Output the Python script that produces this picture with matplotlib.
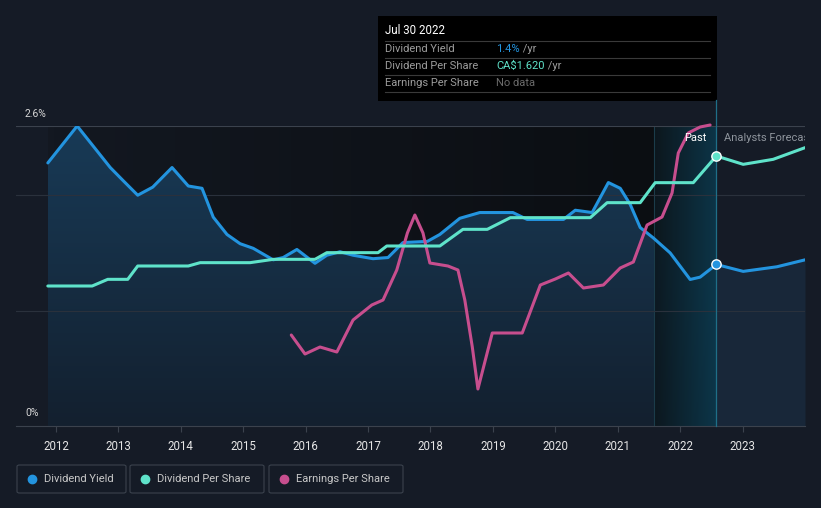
import numpy as np
import matplotlib
matplotlib.use("Agg")
from matplotlib import pyplot as plt
from matplotlib.colors import LinearSegmentedColormap
from matplotlib.patches import Rectangle, FancyBboxPatch

plt.rcParams['font.family'] = ['Roboto', 'DejaVu Sans']

# dividend yield (%)
dy_years = [2011.87, 2012.34, 2012.87, 2013.07, 2013.31, 2013.55, 2013.86, 2014.12, 2014.34,
            2014.52, 2014.74, 2014.95, 2015.16, 2015.48, 2015.64, 2015.86, 2016.15, 2016.34,
            2016.55, 2016.76, 2017.08, 2017.32, 2017.56, 2017.95, 2018.15, 2018.47, 2018.79,
            2019.32, 2019.55, 2020.13, 2020.32, 2020.59, 2020.85, 2021.04, 2021.20, 2021.36,
            2021.57, 2021.84, 2022.16, 2022.32, 2022.58, 2023.01, 2023.55, 2024.00]
dy_vals = [2.28, 2.60, 2.24, 2.13, 2.00, 2.07, 2.24, 2.08, 2.06,
           1.81, 1.66, 1.58, 1.54, 1.44, 1.46, 1.53, 1.41, 1.48,
           1.51, 1.48, 1.45, 1.46, 1.59, 1.60, 1.66, 1.80, 1.85,
           1.85, 1.79, 1.79, 1.87, 1.85, 2.11, 2.06, 1.92, 1.72,
           1.63, 1.50, 1.27, 1.29, 1.40, 1.34, 1.38, 1.44]

# dividend per share (CA$)
dps_years = [2011.87, 2012.58, 2012.83, 2013.15, 2013.31, 2014.12, 2014.31, 2015.11, 2015.48,
             2016.15, 2016.34, 2017.16, 2017.30, 2018.15, 2018.52, 2018.91, 2019.28, 2020.56,
             2020.83, 2021.36, 2021.60, 2022.21, 2022.58, 2023.01, 2023.49, 2024.00]
dps_vals = [0.84, 0.84, 0.88, 0.88, 0.96, 0.96, 0.98, 0.98, 1.00,
            1.00, 1.04, 1.04, 1.08, 1.08, 1.18, 1.18, 1.25, 1.25,
            1.34, 1.34, 1.46, 1.46, 1.62, 1.57, 1.60, 1.67]

# earnings per share (CA$)
eps_years = [2015.77, 2015.99, 2016.23, 2016.50, 2016.76, 2017.06, 2017.24, 2017.46, 2017.63,
             2017.75, 2017.88, 2017.99, 2018.28, 2018.44, 2018.55, 2018.67, 2018.76, 2018.99,
             2019.47, 2019.76, 2020.00, 2020.21, 2020.45, 2020.77, 2021.04, 2021.25, 2021.47,
             2021.71, 2021.87, 2021.97, 2022.13, 2022.32, 2022.48]
eps_vals = [1.82, 1.44, 1.58, 1.48, 2.12, 2.42, 2.52, 3.12, 3.86,
            4.22, 3.86, 3.26, 3.20, 3.12, 2.52, 1.58, 0.74, 1.86,
            1.86, 2.82, 2.94, 3.06, 2.76, 2.82, 3.16, 3.28, 4.02,
            4.18, 4.66, 5.46, 5.86, 5.98, 6.02]

years = [2012, 2013, 2014, 2015, 2016, 2017, 2018, 2019, 2020, 2021, 2022, 2023]
now = 2022.58
band_start = 2021.58

BG = '#151b26'
BLUE = '#2394df'
TEAL = '#5fe3ca'
PINK = '#c74e8e'

W, H = 821, 508
fig = plt.figure(figsize=(W / 100, H / 100), dpi=100, facecolor=BG)

def px(x, y):
    return x / W, 1 - y / H

ax = fig.add_axes([16 / W, 1 - 426 / H, (805 - 16) / W, 300 / H])
ax.set_facecolor(BG)
ax.set_xlim(2011.36, 2024.0)
ax.set_ylim(0, 2.6)
ax2 = ax.twinx()
ax2.set_ylim(0, 1.8)
ax3 = ax.twinx()
ax3.set_ylim(0, 6.0)
for a in (ax2, ax3):
    a.axis('off')

# past background, darker towards the right
cm_past = LinearSegmentedColormap.from_list('p', ['#131821', '#0b0e12'])
ax.imshow(np.linspace(0, 1, 100).reshape(1, -1), cmap=cm_past, aspect='auto',
          extent=[dy_years[0], band_start, 0, 2.6], zorder=0)

# fill under the yield curve (gradient)
yy = np.array(dy_vals)
xx = np.array(dy_years)
past = xx <= now
poly = ax.fill_between(xx[past], yy[past], 0, color='none', zorder=1)
cm_fill = LinearSegmentedColormap.from_list('f', ['#13202f', '#183a56'])
img = ax.imshow(np.linspace(0, 1, 100).reshape(-1, 1), cmap=cm_fill, aspect='auto',
                origin='lower', extent=[dy_years[0], now, 0, 2.6], zorder=1)
img.set_clip_path(poly.get_paths()[0], transform=ax.transData)
fut = xx >= now
ax.fill_between(xx[fut], yy[fut], 0, color='#1a2b3e', alpha=0.8, zorder=1, lw=0)

# highlighted band before "now"
cm_band = LinearSegmentedColormap.from_list('b', ['#0c161c', '#0b3a4e'])
ax.imshow(np.linspace(0, 1, 100).reshape(1, -1), cmap=cm_band, aspect='auto',
          extent=[band_start, now, 0, 2.6], zorder=1.5, alpha=0.85)
ax.axvline(band_start, color='#1b3c4a', lw=0.8, zorder=1.6)

# grid
for v in (1.0, 2.0):
    ax.axhline(v, color='#2a313c', lw=0.8, zorder=1.7)
ax.axhline(2.6, color='#3b424d', lw=0.8, zorder=1.7)

kw = dict(lw=2.2, solid_capstyle='round', solid_joinstyle='round')
ax.plot(dy_years, dy_vals, color=BLUE, zorder=4, **kw)
ax2.plot(dps_years, dps_vals, color=TEAL, zorder=4, **kw)
ax3.plot(eps_years, eps_vals, color=PINK, zorder=3, clip_on=False, **kw)
ax2.set_zorder(2)
ax3.set_zorder(1.5)
ax.set_zorder(1)
ax2.patch.set_visible(False)
ax3.patch.set_visible(False)

ax2.scatter([now], [1.62], s=45, color=TEAL, edgecolor='white', lw=1, zorder=6, clip_on=False)
ax2.scatter([now], [1.40 * 1.8 / 2.6], s=45, color=BLUE, edgecolor='white', lw=1, zorder=6, clip_on=False)

ax2.text(now - 0.15, 2.5 * 1.8 / 2.6, 'Past', color='white', fontsize=8, ha='right', va='center')
ax2.text(now + 0.12, 2.5 * 1.8 / 2.6, 'Analysts Forecast', color='#8e949c', fontsize=8,
         ha='left', va='center', clip_on=True)

# axes decoration
for s in ('top', 'right', 'left'):
    ax.spines[s].set_visible(False)
ax.spines['bottom'].set_color('#3b424d')
ax.set_yticks([])
ax.set_xticks(years)
ax.set_xticklabels([str(y) for y in years])
ax.tick_params(axis='x', colors='#3b424d', length=4, width=0.8, labelcolor='#e6e6e6',
               labelsize=8.3, pad=6)

fig.text(*px(25, 114), '2.6%', color='#d6d6d6', fontsize=7.5, va='center')
fig.text(*px(25, 413), '0%', color='#d6d6d6', fontsize=7.5, va='center')

# vertical "now" line
fig.add_artist(plt.Line2D([716 / W, 716 / W], [1 - 100 / H, 1 - 426 / H], color='#1f6f88', lw=0.9))

# tooltip
fig.add_artist(Rectangle(px(378, 101), (717 - 378) / W, 85 / H, transform=fig.transFigure,
                         facecolor='black', edgecolor='none'))
fig.text(*px(385, 31), 'Jul 30 2022', color='white', fontsize=8.3, va='center')
for y in (41, 58, 75, 92):
    fig.add_artist(plt.Line2D([385 / W, 710 / W], [1 - y / H] * 2, color='#3a3a3a', lw=0.8))
rows = [('Dividend Yield', '1.4%', BLUE, ' /yr'),
        ('Dividend Per Share', 'CA$1.620', TEAL, ' /yr'),
        ('Earnings Per Share', 'No data', '#6b6b6b', '')]
for i, (lab, val, col, unit) in enumerate(rows):
    y = 49 + 17 * i
    fig.text(*px(385, y), lab, color='#9c9c9c', fontsize=8, va='center')
    t = fig.text(*px(496, y), val, color=col, fontsize=8, va='center')
    if unit:
        fig.canvas.draw()
        bb = t.get_window_extent()
        fig.text(bb.x1 / W, 1 - y / H, unit, color='#9c9c9c', fontsize=8, va='center')

# legend boxes
legend = [('Dividend Yield', BLUE, 17, 126), ('Dividend Per Share', TEAL, 130, 264),
          ('Earnings Per Share', PINK, 269, 403)]
for lab, col, x0, x1 in legend:
    fig.add_artist(FancyBboxPatch(px(x0, 493), (x1 - x0) / W, 28 / H, transform=fig.transFigure,
                                  boxstyle='round,pad=0,rounding_size=0.003',
                                  facecolor=BG, edgecolor='#3b424d', lw=0.8))
    fig.add_artist(plt.Line2D([(x0 + 15) / W], [1 - 479 / H], marker='o', markersize=6,
                              color=col, transform=fig.transFigure))
    fig.text(*px(x0 + 27, 479), lab, color='#c8c8c8', fontsize=8, va='center')

fig.savefig('out.png', dpi=100, facecolor=BG)
